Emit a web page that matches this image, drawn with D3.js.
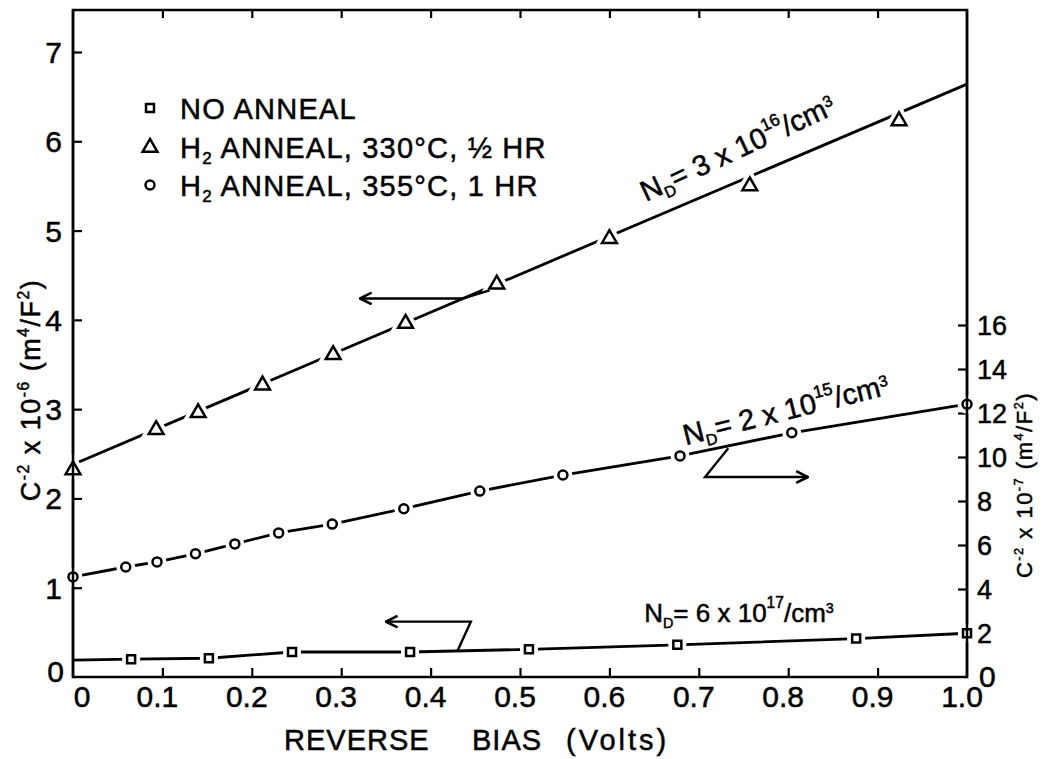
<!DOCTYPE html>
<html>
<head>
<meta charset="utf-8">
<script src="https://cdn.jsdelivr.net/npm/d3@7"></script>
<style>
  body { margin: 0; background: #fff; }
  text { font-family: "Liberation Sans", Arial, sans-serif; fill: #000; stroke: #000; stroke-width: 0.5; }
</style>
</head>
<body>
<svg id="chart" width="1044" height="759"></svg>
<script>
// tick values
const xTicks = [0.1, 0.2, 0.3, 0.4, 0.5, 0.6, 0.7, 0.8, 0.9];
const xTickLabels = ["0.1", "0.2", "0.3", "0.4", "0.5", "0.6", "0.7", "0.8", "0.9", "1.0"];
const leftTicks = [1, 2, 3, 4, 5, 6, 7];
const rightTicks = [2, 4, 6, 8, 10, 12, 14, 16];

// no anneal, squares (left axis)
const sqX = [0.065, 0.152, 0.245, 0.377, 0.51, 0.676, 0.876, 1.0];
const sqY = [0.20, 0.21, 0.28, 0.28, 0.31, 0.36, 0.43, 0.49];
const sqStart = [0, 0.19];

// H2 anneal 330C, triangles (left axis)
const triX = [0, 0.093, 0.14, 0.212, 0.291, 0.372, 0.474, 0.600, 0.757, 0.924];
const triY = [2.33, 2.78, 2.97, 3.28, 3.62, 3.97, 4.41, 4.92, 5.51, 6.24];
const triFit = [[0, 2.38], [1.0, 6.64]];

// H2 anneal 355C, circles (right axis)
const cirX = [0, 0.059, 0.094, 0.137, 0.181, 0.23, 0.29, 0.37, 0.455, 0.548, 0.679, 0.804, 1.0];
const cirY = [4.55, 5.0, 5.23, 5.6, 6.05, 6.55, 6.95, 7.65, 8.45, 9.18, 10.05, 11.1, 12.4];

const svg = d3.select("#chart");
const mLeft = 73, mRight = 967, mTop = 10, mBottom = 677;

const x = d3.scaleLinear().domain([0, 1]).range([mLeft, mRight]);
const yL = d3.scaleLinear().domain([0, 7]).range([mBottom, 52]);
const yR = d3.scaleLinear().domain([0, 16]).range([mBottom, 325]);

// arrowhead
svg.append("defs").append("marker")
  .attr("id", "head").attr("viewBox", "0 0 12 12").attr("refX", 11).attr("refY", 6)
  .attr("markerWidth", 14).attr("markerHeight", 14).attr("markerUnits", "userSpaceOnUse")
  .attr("orient", "auto")
  .append("path").attr("d", "M1,1 L11,6 L1,11").attr("fill", "none")
  .attr("stroke", "#000").attr("stroke-width", 2.2);

// frame
svg.append("rect").attr("x", mLeft).attr("y", mTop)
  .attr("width", mRight - mLeft).attr("height", mBottom - mTop)
  .attr("fill", "none").attr("stroke", "#000").attr("stroke-width", 2.5);

// axes (ticks inward)
const gx = svg.append("g").attr("transform", `translate(0,${mBottom})`)
  .call(d3.axisTop(x).tickValues(xTicks).tickSize(9).tickFormat(""));
const gxt = svg.append("g").attr("transform", `translate(0,${mTop})`)
  .call(d3.axisBottom(x).tickValues(xTicks).tickSize(8).tickFormat(""));
const gl = svg.append("g").attr("transform", `translate(${mLeft},0)`)
  .call(d3.axisRight(yL).tickValues(leftTicks).tickSize(9).tickFormat(""));
const gr = svg.append("g").attr("transform", `translate(${mRight},0)`)
  .call(d3.axisLeft(yR).tickValues(rightTicks).tickSize(9).tickFormat(""));
[gx, gxt, gl, gr].forEach(g => {
  g.select(".domain").remove();
  g.selectAll(".tick line").attr("stroke", "#000").attr("stroke-width", 2.2);
});

// tick labels
const tickFont = 30;
svg.append("g").selectAll("text").data(xTickLabels).join("text")
  .attr("x", (d, i) => x((i + 1) / 10) - 5)
  .attr("y", 707)
  .attr("text-anchor", "middle").attr("font-size", tickFont)
  .text(d => d);
svg.append("text").attr("x", x(0) + 9).attr("y", 707).attr("text-anchor", "middle")
  .attr("font-size", tickFont).text("0");
svg.append("g").selectAll("text").data(leftTicks).join("text")
  .attr("x", mLeft - 11).attr("y", d => yL(d) + 11)
  .attr("text-anchor", "end").attr("font-size", tickFont).text(d => d);
svg.append("text").attr("x", mLeft - 9).attr("y", mBottom + 5).attr("text-anchor", "end")
  .attr("font-size", tickFont).text("0");
svg.append("g").selectAll("text").data(rightTicks).join("text")
  .attr("x", mRight + 10).attr("y", d => yR(d) + 10)
  .attr("font-size", 27).text(d => d);
svg.append("text").attr("x", mRight + 12).attr("y", mBottom + 10)
  .attr("font-size", 30).text("0");

// axis titles
svg.append("g").attr("transform", "translate(0,750)")
  .call(g => {
    g.append("text").attr("x", 284).attr("font-size", 29).attr("letter-spacing", 1).text("REVERSE");
    g.append("text").attr("x", 472).attr("font-size", 29).attr("letter-spacing", 1).text("BIAS");
    g.append("text").attr("x", 566).attr("font-size", 29).attr("letter-spacing", 3).text("(Volts)");
  });

function powerLabel(g, exp, size, spacing) {
  const s = size * 0.58, up = size * 0.42;
  const t = g.append("text").attr("text-anchor", "middle").attr("font-size", size)
    .attr("letter-spacing", spacing);
  t.append("tspan").text("C");
  t.append("tspan").attr("dy", -up).attr("font-size", s).text("-2");
  t.append("tspan").attr("dy", up).text(" x 10");
  t.append("tspan").attr("dy", -up).attr("font-size", s).text(exp);
  t.append("tspan").attr("dy", up).text("   (m");
  t.append("tspan").attr("dy", -up).attr("font-size", s).text("4");
  t.append("tspan").attr("dy", up).text("/F");
  t.append("tspan").attr("dy", -up).attr("font-size", s).text("2");
  t.append("tspan").attr("dy", up).text(")");
  return t;
}
powerLabel(svg.append("g").attr("transform", "translate(40,390) rotate(-90)"), "-6", 27, 1.5);
powerLabel(svg.append("g").attr("transform", "translate(1032,485) rotate(-90)"), "-7", 22, 1.5);

// lines
const lineL = d3.line().x(d => x(d[0])).y(d => yL(d[1]));
const lineR = d3.line().x(d => x(d[0])).y(d => yR(d[1]));
const sqPts = sqX.map((v, i) => [v, sqY[i]]);
const triPts = triX.map((v, i) => [v, triY[i]]);
const cirPts = cirX.map((v, i) => [v, cirY[i]]);

svg.append("path").attr("d", lineL([sqStart, ...sqPts]))
  .attr("fill", "none").attr("stroke", "#000").attr("stroke-width", 2.8);
svg.append("path").attr("d", lineL(triFit))
  .attr("fill", "none").attr("stroke", "#000").attr("stroke-width", 2.8);
svg.append("path").attr("d", lineR(cirPts))
  .attr("fill", "none").attr("stroke", "#000").attr("stroke-width", 2.8);

// markers with white halo to break the line
const triSym = d3.symbol().type(d3.symbolTriangle).size(95);
function drawMarkers(pts, ys, kind) {
  const g = svg.append("g");
  ["halo", "mark"].forEach(layer => {
    const sel = g.selectAll("." + layer).data(pts).join(kind === "circle" ? "circle" : "path")
      .attr("class", layer)
      .attr("fill", "#fff")
      .attr("stroke", layer === "halo" ? "#fff" : "#000")
      .attr("stroke-width", layer === "halo" ? 10 : 2.5);
    if (kind === "circle") {
      sel.attr("cx", d => x(d[0])).attr("cy", d => ys(d[1])).attr("r", 4.5);
    } else if (kind === "square") {
      sel.attr("d", "M-4,-4h8v8h-8z")
        .attr("transform", d => `translate(${x(d[0])},${ys(d[1])})`);
    } else {
      sel.attr("d", triSym)
        .attr("transform", d => `translate(${x(d[0])},${ys(d[1]) + 1})`);
    }
  });
}
drawMarkers(sqPts, yL, "square");
drawMarkers(triPts, yL, "triangle");
drawMarkers(cirPts, yR, "circle");
// redraw side edges over halos
svg.append("line").attr("x1", mLeft).attr("x2", mLeft).attr("y1", mTop).attr("y2", mBottom)
  .attr("stroke", "#000").attr("stroke-width", 2.5);
svg.append("line").attr("x1", mRight).attr("x2", mRight).attr("y1", mTop).attr("y2", mBottom)
  .attr("stroke", "#000").attr("stroke-width", 2.5);

// legend
const legendItems = [
  { kind: "square", label: ["NO ANNEAL"] },
  { kind: "triangle", label: ["H", "2", " ANNEAL, 330°C, ½ HR"] },
  { kind: "circle", label: ["H", "2", " ANNEAL, 355°C, 1 HR"] }
];
legendItems.forEach((item, i) => {
  const cy = 108 + i * 38.5;
  const g = svg.append("g").attr("transform", `translate(150,${cy})`);
  if (item.kind === "square") g.append("path").attr("d", "M-4,-4h8v8h-8z");
  else if (item.kind === "triangle") g.append("path").attr("d", triSym).attr("transform", "translate(0,1)");
  else g.append("circle").attr("r", 4.5);
  g.selectAll("path,circle").attr("fill", "#fff").attr("stroke", "#000").attr("stroke-width", 2.5);
  const t = g.append("text").attr("x", 30).attr("y", 11).attr("font-size", 29)
    .attr("letter-spacing", 1.2);
  t.append("tspan").text(item.label[0]);
  if (item.label.length > 1) {
    t.append("tspan").attr("dy", 6).attr("font-size", 17).text(item.label[1]);
    t.append("tspan").attr("dy", -6).text(item.label[2]);
  }
});

// N_D annotations
function ndLabel(g, mant, exp, size) {
  const t = g.append("text").attr("text-anchor", "middle").attr("font-size", size);
  t.append("tspan").text("N");
  t.append("tspan").attr("dy", 6).attr("font-size", size * 0.55).text("D");
  t.append("tspan").attr("dy", -6).text(`= ${mant} x 10`);
  t.append("tspan").attr("dy", -14).attr("font-size", size * 0.6).text(exp);
  t.append("tspan").attr("dy", 14).text("/cm");
  t.append("tspan").attr("dy", -9).attr("font-size", size * 0.55).text("3");
  return t;
}
ndLabel(svg.append("g").attr("transform", `translate(${x(0.748)},${yL(5.82)}) rotate(-25)`), "3", "16", 29);
ndLabel(svg.append("g").attr("transform", `translate(${x(0.8)},${yR(11.7)}) rotate(-14)`), "2", "15", 29);
ndLabel(svg.append("g").attr("transform", `translate(${x(0.745)},${yL(0.62)})`), "6", "17", 26);

// arrows
const arrowStyle = p => p.attr("fill", "none").attr("stroke", "#000")
  .attr("stroke-width", 2.4).attr("marker-end", "url(#head)");
svg.append("path").attr("d", lineL([[0.466, 4.33], [0.436, 4.24], [0.321, 4.24]])).call(arrowStyle);
svg.append("path").attr("d", lineR([[0.733, 10.4], [0.707, 9.09], [0.822, 9.09]])).call(arrowStyle);
svg.append("path").attr("d", lineL([[0.43, 0.29], [0.445, 0.62], [0.35, 0.62]])).call(arrowStyle);
</script>
</body>
</html>
